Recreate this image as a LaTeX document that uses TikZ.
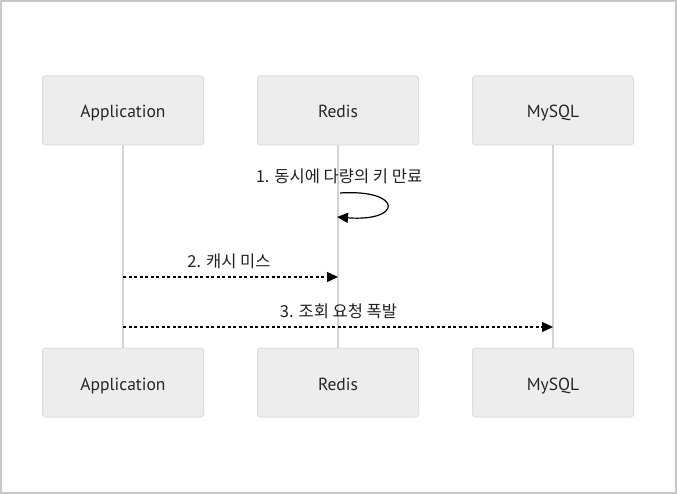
\documentclass[tikz,border=0pt]{standalone}
\usepackage{fontspec}
\setmainfont{Noto Sans CJK KR}
\newfontfamily\actorfont{PT Sans}
\usetikzlibrary{arrows.meta}

\definecolor{boxfill}{HTML}{EDEDED}
\definecolor{boxline}{HTML}{DDDDDD}
\definecolor{lifeline}{HTML}{D3D3D3}
\definecolor{frameline}{HTML}{C8C8C8}
\definecolor{msgtext}{HTML}{222222}

\tikzset{
  actor/.style={rectangle, rounded corners=3pt, draw=boxline, fill=boxfill,
    line width=1pt, minimum width=161pt, minimum height=69pt,
    text height=16pt, text depth=1pt,
    font=\actorfont\fontsize{17.5}{19}\selectfont, text=black!85},
  life/.style={draw=lifeline, line width=1.5pt},
  msg/.style={line width=1.3pt, dash pattern=on 3pt off 2.5pt,
    -{Triangle[length=11pt,width=10pt]}},
  selfmsg/.style={line width=1.2pt, -{Triangle[length=11pt,width=10pt]}},
  msglabel/.style={font=\fontsize{16.5}{18}\selectfont, text=msgtext}
}

\begin{document}
\begin{tikzpicture}[x=1pt, y=-1pt]

\useasboundingbox (0,0) rectangle (677,494);
\draw[frameline, line width=2pt] (1,1) rectangle (676,493);

% participants, top and bottom
\node[actor] (apptop) at (123,110.5) {Application};
\node[actor] (redistop) at (338,110.5) {Redis};
\node[actor] (sqltop) at (553,110.5) {MySQL};

\node[actor] (appbot) at (123,382.5) {Application};
\node[actor] (redisbot) at (338,382.5) {Redis};
\node[actor] (sqlbot) at (553,382.5) {MySQL};

% lifelines
\draw[life] (apptop) -- (appbot);
\draw[life] (redistop) -- (redisbot);
\draw[life] (sqltop) -- (sqlbot);

% 1. self message on Redis
\coordinate (loopstart) at (340,193);
\coordinate (loopend) at (337,217);
\node[msglabel] (m1) at (339,176) {1. 동시에 다량의 키 만료};
\draw[selfmsg] (loopstart) .. controls (403,189) and (403,222) .. (loopend);

% 2. cache miss
\coordinate (a2) at (123,277);
\coordinate (r2) at (338,277);
\node[msglabel] (m2) at (229,261) {2. 캐시 미스};
\draw[msg] (a2) -- (r2);

% 3. query burst
\coordinate (a3) at (123,327);
\coordinate (s3) at (553,327);
\node[msglabel] (m3) at (338.5,311) {3. 조회 요청 폭발};
\draw[msg] (a3) -- (s3);

\end{tikzpicture}
\end{document}
